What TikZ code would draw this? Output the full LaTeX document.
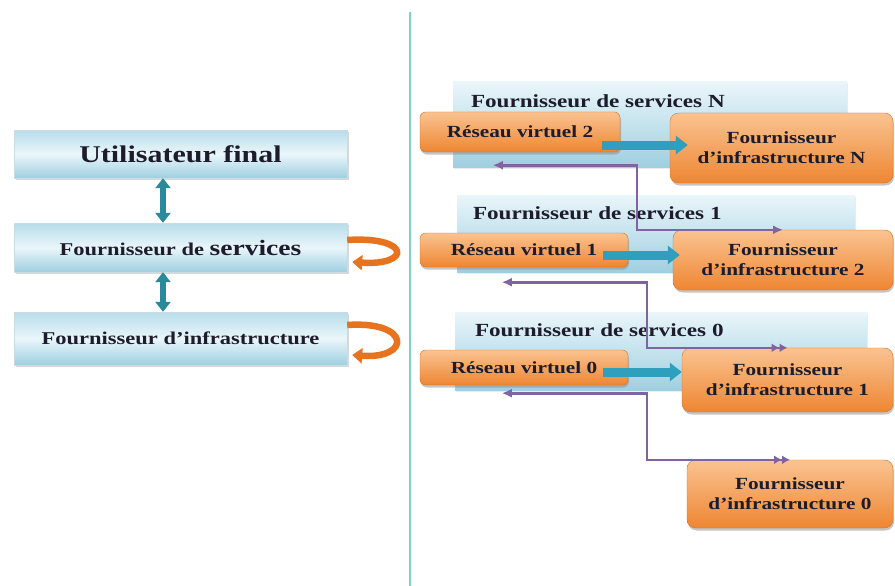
\documentclass[tikz,border=0pt]{standalone}
\usepackage{fontspec}
\setmainfont{Liberation Serif}[FakeStretch=1.25]
\usetikzlibrary{positioning,shadows,arrows.meta,calc}

\definecolor{ink}{HTML}{1C1C2C}
\definecolor{paleblue}{HTML}{EAF6FA}
\definecolor{midblue}{HTML}{B7DDEA}
\definecolor{deepblue}{HTML}{9FCFE0}
\definecolor{lightorange}{HTML}{FAC391}
\definecolor{deeporange}{HTML}{EE8632}
\definecolor{edgeorange}{HTML}{D9701E}
\definecolor{loopcol}{HTML}{E8731E}
\definecolor{teal}{HTML}{2E9FBD}
\definecolor{darkteal}{HTML}{2A8A9C}
\definecolor{violet}{HTML}{8064A2}
\definecolor{mint}{HTML}{7DD3C0}

\tikzset {
    style layer/.style={
        top color=midblue,
        bottom color=deepblue,
        middle color=paleblue,
        draw=deepblue!80!black!40,
        rectangle, % Set the shape as a rectangle
        minimum width=333pt,
        inner sep=0pt,
        align=center,
        drop shadow={shadow xshift=1.5pt, shadow yshift=-2pt, fill=black!30},
        font=\bfseries\fontsize{18}{20}\selectfont,
    },
    style service/.style={
        top color=paleblue,
        bottom color=deepblue,
        draw=none,
        rectangle, % Set the shape as a rectangle
        inner sep=0pt,
        drop shadow={shadow xshift=1pt, shadow yshift=-1.5pt, fill=black!15},
    },
    style title/.style={
        anchor=west,
        inner sep=0pt,
        font=\bfseries\fontsize{18.5}{20}\selectfont,
    },
    style vnet/.style={
        top color=lightorange,
        bottom color=deeporange,
        draw=edgeorange,
        rounded corners=.2cm,
        rectangle, % Set the shape as a rectangle
        inner sep=0pt,
        align=center,
        drop shadow={shadow xshift=1pt, shadow yshift=-2.5pt, fill=black!45},
        font=\bfseries\fontsize{17}{20}\selectfont,
    },
    style infra/.style={
        style vnet,
        rounded corners=.3cm,
    },
    style dbl/.style={
        draw=darkteal,
        line width=6.5pt,
        {Triangle[width=15pt,length=10pt]}-{Triangle[width=15pt,length=10pt]},
    },
    style loop/.style={
        draw=loopcol,
        line width=6.5pt,
        -{Triangle[width=15pt,length=10pt]},
    },
    style flow/.style={
        draw=teal,
        line width=9pt,
        -{Triangle[width=18pt,length=12pt]},
    },
    style link/.style={
        draw=violet,
        line width=2.6pt,
        {Latex[length=10pt,width=9pt]}-{Latex[length=10pt,width=9pt]},
    },
    style link2/.style={
        draw=violet,
        line width=2.6pt,
        {Latex[length=10pt,width=9pt]}-{Latex[length=8pt,width=9pt] Latex[length=8pt,width=9pt]},
    },
}

\begin{document}
\begin{tikzpicture}[x=1pt, y=-1pt, every node/.style={text=ink}]
        \useasboundingbox (0,0) rectangle (895,586);

        % left column
        \node[style layer, minimum height=48pt, font=\bfseries\fontsize{24}{26}\selectfont] (uf) at (180.5,154) {Utilisateur final};
        \node[style layer, minimum height=49pt] (fs) at (180.5,247.5) {Fournisseur de {\fontsize{22}{24}\selectfont services}};
        \node[style layer, minimum height=53pt] (fi) at (180.5,338.5) {Fournisseur d'infrastructure};

        \draw[style dbl] ([xshift=-17.5pt]uf.south) -- ([xshift=-17.5pt]fs.north);
        \draw[style dbl] ([xshift=-17.5pt]fs.south) -- ([xshift=-17.5pt]fi.north);

        \draw[style loop] ([yshift=7.5pt]fs.east) .. controls ([shift={(64pt,11.5pt)}]fs.east) and ([shift={(64pt,-18.5pt)}]fs.east) .. ([shift={(5pt,-14.5pt)}]fs.east);
        \draw[style loop] ([yshift=13.5pt]fi.east) .. controls ([shift={(64pt,18pt)}]fi.east) and ([shift={(64pt,-21pt)}]fi.east) .. ([shift={(5pt,-16.5pt)}]fi.east);

        \draw[mint, line width=2.5pt] (410,12) -- (410,586);

        % service providers
        \node[style service, minimum width=394pt, minimum height=85pt] (fsN) at (650,124.5) {};
        \node[style service, minimum width=398pt, minimum height=77pt] (fs1) at (656,233.5) {};
        \node[style service, minimum width=412pt, minimum height=78pt] (fs0) at (661,351) {};
        \node[style title] (tN) at ([shift={(18pt,-19pt)}]fsN.north west) {Fournisseur de services N};
        \node[style title] (t1) at ([shift={(16pt,-18pt)}]fs1.north west) {Fournisseur de services 1};
        \node[style title] (t0) at ([shift={(20pt,-18pt)}]fs0.north west) {Fournisseur de services 0};

        % infrastructure providers
        \node[style infra, minimum width=223pt, minimum height=70pt] (fiN) at (781.5,148) {Fournisseur\\d'infrastructure N};
        \node[style infra, minimum width=220pt, minimum height=60pt] (fi2) at (783,260) {Fournisseur\\d'infrastructure 2};
        \node[style infra, minimum width=211pt, minimum height=64pt] (fi1) at (787.5,380) {Fournisseur\\d'infrastructure 1};
        \node[style infra, minimum width=206pt, minimum height=68pt] (fi0) at (790,494) {Fournisseur\\d'infrastructure 0};

        \draw[style link] ([shift={(40pt,2pt)}]fsN.south west) -- ++(144,0) |- (fi2.north);
        \draw[style link2] ([shift={(45pt,-10pt)}]fs1.south west) -- ++(145,0) |- (fi1.north);
        \draw[style link2] ([shift={(47pt,-3pt)}]fs0.south west) -- ++(145,0) |- (fi0.north);

        % virtual networks
        \node[style vnet, minimum width=200pt, minimum height=40pt] (rv2) at (520,132) {Réseau virtuel 2};
        \node[style vnet, minimum width=208pt, minimum height=34pt] (rv1) at (524,250) {Réseau virtuel 1};
        \node[style vnet, minimum width=208pt, minimum height=35pt] (rv0) at (524,367.5) {Réseau virtuel 0};

        \draw[style flow] ($(rv2.east)+(-18pt,-13pt)$) -- ($(rv2.east -| fiN.west)+(18pt,-13pt)$);
        \draw[style flow] ($(rv1.east)+(-25pt,-5pt)$) -- ($(rv1.east -| fi2.west)+(7pt,-5pt)$);
        \draw[style flow] ($(rv0.east)+(-25pt,-4.5pt)$) -- ($(rv0.east -| fi1.west)+(0pt,-4.5pt)$);
    \end{tikzpicture}
\end{document}
